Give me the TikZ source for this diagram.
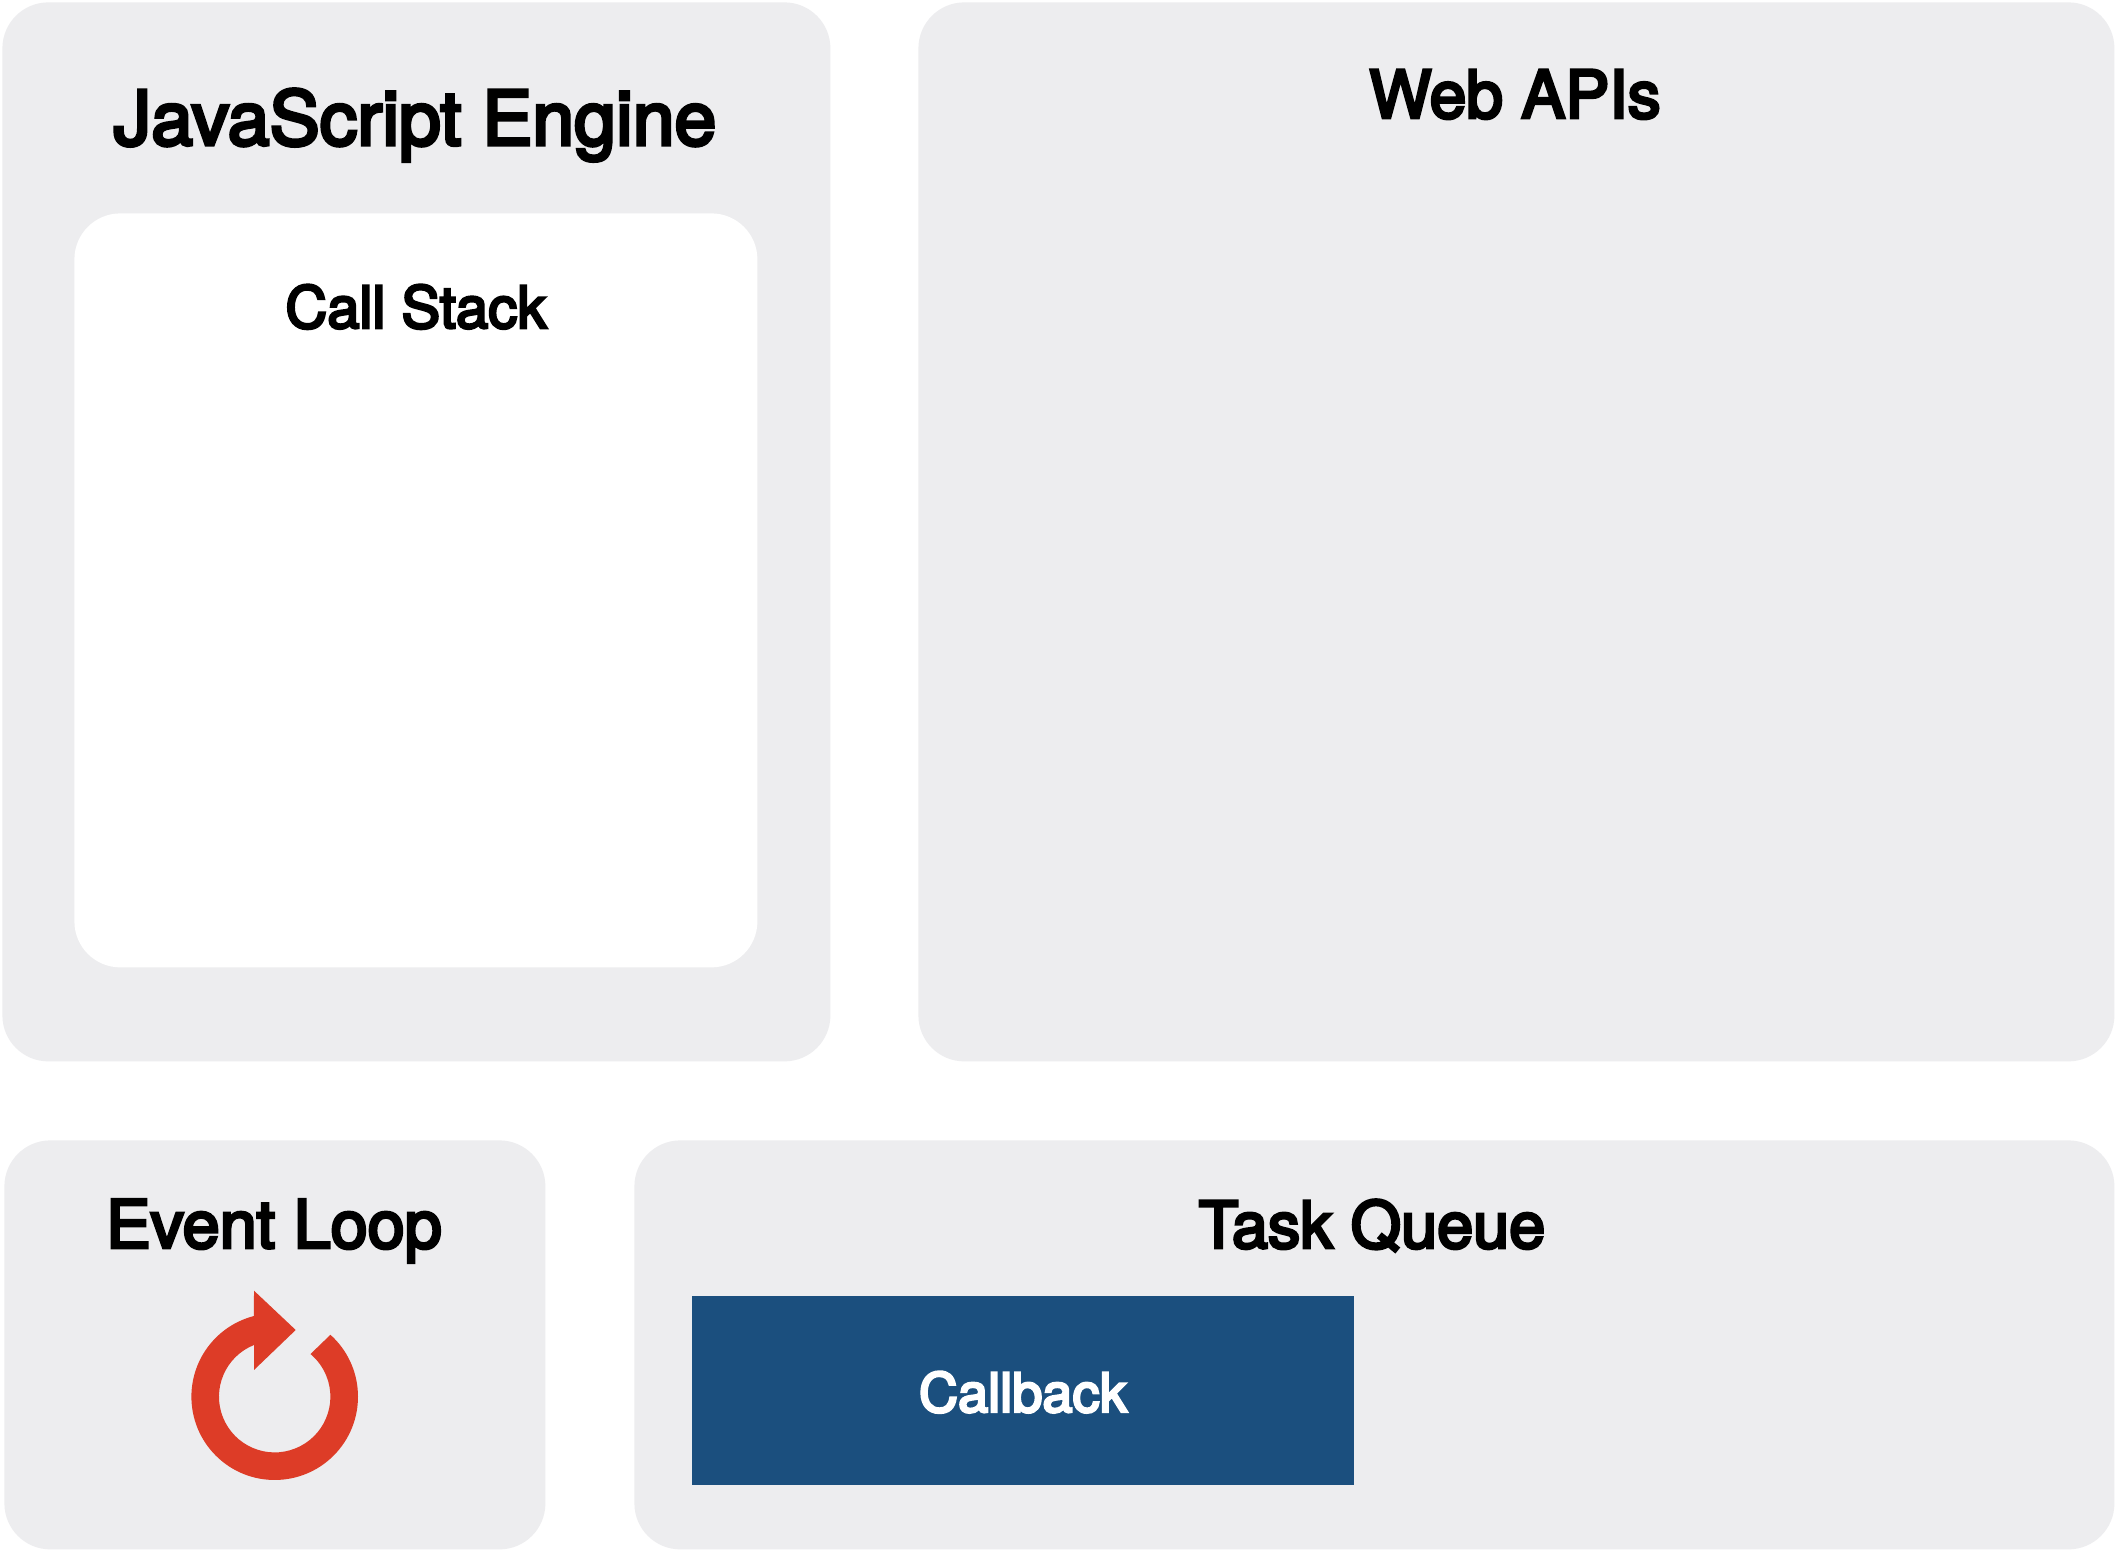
\documentclass[tikz,border=0pt]{standalone}
\usepackage{fontspec}
\setmainfont[FakeBold=4.5]{TeX Gyre Heros}
\usepackage{xcolor}
\usepackage{tikz}
\usetikzlibrary{positioning}
\definecolor{panelgray}{HTML}{EDEDEF}
\definecolor{loopred}{HTML}{DD3C27}
\definecolor{taskblue}{HTML}{1B4F7E}
\tikzset{
  panel/.style={fill=panelgray, rounded corners=23pt, anchor=north west, inner sep=0pt},
  title/.style={font=\fontsize{33}{36}\selectfont, anchor=base, inner sep=0pt},
  subtitle/.style={font=\fontsize{29}{32}\selectfont, anchor=base, inner sep=0pt}
}

\begin{document}
\begin{tikzpicture}[x=0.5pt,y=0.5pt]
  \path[use as bounding box, fill=white] (0,0) rectangle (2116,1552);

  % ======= JavaScript Engine (top left) =======
  \node[panel, minimum width=414pt, minimum height=529.5pt] (engine) at (2,1550) {};
  \node[panel, fill=white, minimum width=341.5pt, minimum height=377pt] (stack) at (74,1339) {};
  \node[title, font=\fontsize{37.6}{40}\selectfont] (enginetitle) at (415,1407) {JavaScript Engine};
  \node[subtitle] (stacktitle) at (416,1224) {Call Stack};

  % ======= Web APIs (top right) =======
  \node[panel, minimum width=598pt, minimum height=529.5pt] (webapis) at (918,1550) {};
  \node[title] (webtitle) at (1515,1434) {Web APIs};

  % ======= Event Loop (bottom left) =======
  \node[panel, minimum width=270.5pt, minimum height=204.5pt] (loop) at (4,412) {};
  \node[title, font=\fontsize{33.3}{36}\selectfont] (looptitle) at (274,304) {Event Loop};

  % Loop icon
  \fill[loopred] (274.7,155.3) ++(48:83.3) arc (48:-255.6:83.3) -- (254,261.3)
    -- (295.7,222) -- (254,182) -- (254,207) arc (111.8:410:55.7) -- cycle;

  % ======= Task Queue (bottom right) =======
  \node[panel, minimum width=740pt, minimum height=204.5pt] (queue) at (634,412) {};
  \node[title, font=\fontsize{32.4}{36}\selectfont] (queuetitle) at (1372,304) {Task Queue};

  % Queued callback
  \node[fill=taskblue, anchor=north west, inner sep=0pt, minimum width=331pt, minimum height=94.5pt] (callback) at (692,256.3) {};
  \node[subtitle, text=white, font=\fontsize{27.1}{30}\selectfont] (callbacktitle) at (1023,140) {Callback};
\end{tikzpicture}
\end{document}
